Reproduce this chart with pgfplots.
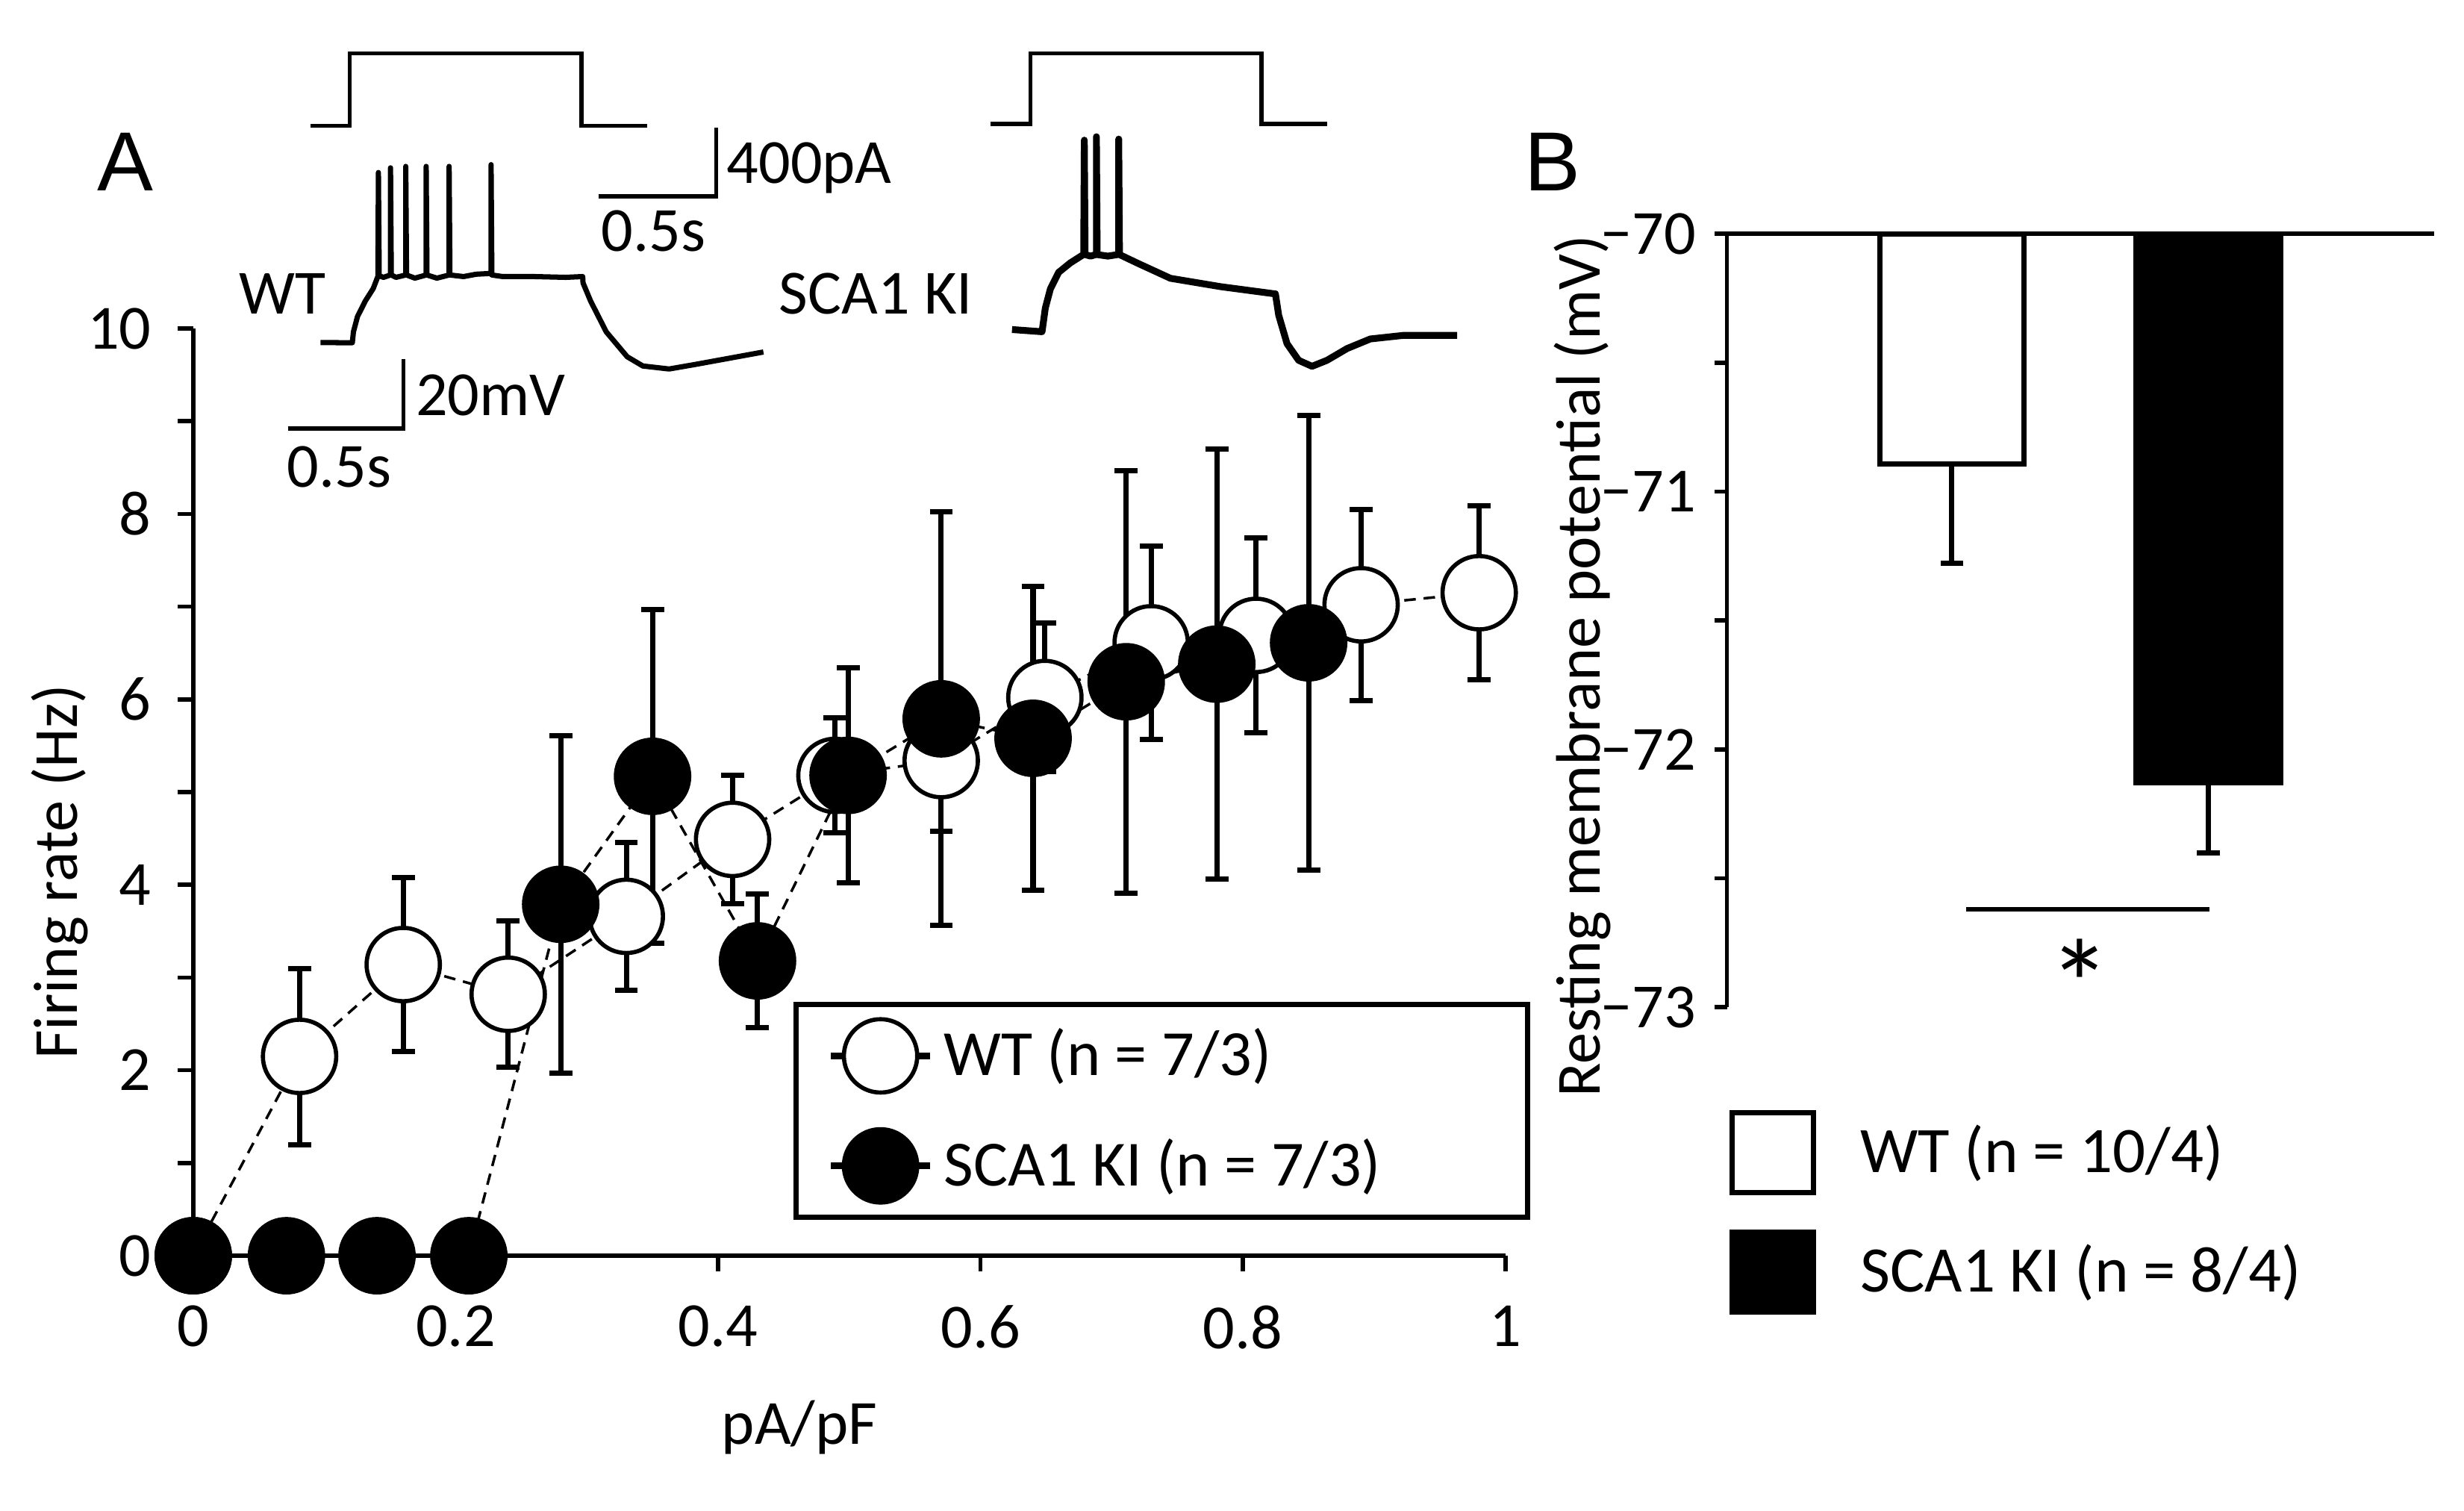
\documentclass[border=0pt]{standalone}
\usepackage{pgfplots}
\pgfplotsset{compat=1.18}
\usepackage{pgfplotstable}
\usepackage{fontspec}
\setmainfont{Carlito}
\newfontfamily\arialfont{Liberation Sans}
\newcommand\fs[1]{\fontsize{#1}{#1}\selectfont}

% firing rate vs current density: x, mean, sem
\pgfplotstableread{
x     y     e
0.000 0.00  0
0.081 2.15  0.95
0.160 3.14  0.94
0.240 2.82  0.79
0.330 3.66  0.80
0.411 4.49  0.69
0.489 5.18  0.62
0.570 5.34  0.76
0.649 6.02  0.80
0.730 6.61  1.04
0.810 6.69  1.05
0.890 7.02  1.03
0.980 7.15  0.94
}\wtdata
\pgfplotstableread{
x     y     e
0.000 0.00  0
0.071 0.00  0
0.140 0.00  0
0.210 0.00  0
0.280 3.79  1.82
0.350 5.17  1.80
0.430 3.18  0.72
0.499 5.18  1.16
0.570 5.79  2.23
0.640 5.58  1.64
0.711 6.19  2.28
0.780 6.38  2.32
0.850 6.61  2.45
}\kidata

\begin{document}
\begin{tikzpicture}
\useasboundingbox (0,0) rectangle (470.4pt,288.3pt);

% insets (example traces), in picture pixel units
\begin{axis}[at={(0,0)}, anchor=south west, scale only axis,
  width=470.4pt, height=288.3pt, xmin=0, xmax=1568, ymin=0, ymax=961,
  y dir=reverse, hide axis, clip=false, enlargelimits=false]
% current steps
\addplot[black, line width=0.8pt] coordinates {(197.5,80) (222.5,80) (222.5,34) (370,34) (370,80) (411.8,80)};
\addplot[black, line width=0.8pt] coordinates {(630.3,79) (655.7,79) (655.7,34) (802.7,34) (802.7,79) (844.5,79)};
% WT voltage
\addplot[black, line width=1pt, line join=round] coordinates {
(204,218) (224.2,218.1) (224.9,211.2) (227.5,201.4) (232.5,191.5) (237.5,183.6) (240.5,175.8)
(240.8,109.8) (241.3,175.5) (244,176.5) (248.5,175) (248.5,106.8) (249,175) (252,176.5)
(258.2,175) (258.2,105.9) (258.7,175) (264,177) (271.2,175) (271.2,105.9) (271.7,175)
(278,177) (285.8,175) (285.8,105.9) (286.3,175) (295,176) (303,174.5) (312.5,174)
(312.5,104.8) (313,175) (320,176) (340,176) (360,176.5) (370.8,176) (371,180)
(375.8,191.5) (385.8,211.2) (399.1,227) (409.1,232.9) (425.8,234.8) (442.5,231.9) (485.8,224)};
% SCA1 KI voltage
\addplot[black, line width=1.3pt, line join=round] coordinates {
(644,209.7) (663.1,211.1) (665.2,196) (668.4,183.9) (673.7,173.3) (681.1,167.3) (689.6,161.9)
(690,89.2) (690.5,162) (694,163) (697.7,161.9) (697.7,87) (698.2,162) (705,163)
(711.9,161.9) (711.9,88.5) (712.4,162) (723.5,167.3) (744.8,177.1) (776.6,182.4)
(810.5,186.9) (811.6,186.9) (813.7,200.6) (819,218.7) (826.4,229.3) (834.9,233.1)
(844.4,229.3) (857.2,221.8) (872,215.7) (893.2,213.4) (927.2,213.4)};
% scale bars
\addplot[black, line width=0.8pt] coordinates {(380.8,125) (455.8,125) (455.8,81.2)};
\addplot[black, line width=0.8pt] coordinates {(183.2,272.7) (256.8,272.7) (256.8,228.5)};
\node[anchor=west, inner sep=0pt, font=\fs{12}] at (axis cs:461.8,106.8) {400pA};
\node[inner sep=0pt, font=\fs{12}] at (axis cs:415.8,147.2) {0.5s};
\node[anchor=west, inner sep=0pt, font=\fs{12}] at (axis cs:264,251.6) {20mV};
\node[inner sep=0pt, font=\fs{12}] at (axis cs:215.8,297) {0.5s};
\node[inner sep=0pt, font=\fs{12}] at (axis cs:180,187) {WT};
\node[inner sep=0pt, font=\fs{12}] at (axis cs:557.4,187) {SCA1 KI};
\node[inner sep=0pt, font=\arialfont\fs{16}] at (axis cs:80,103) {A};
\node[inner sep=0pt, font=\arialfont\fs{16}] at (axis cs:988,103) {B};
\end{axis}

% panel A
\begin{axis}[at={(36.9pt,48.6pt)}, anchor=south west, scale only axis,
  width=250.5pt, height=177pt,
  xmin=0, xmax=1, ymin=0, ymax=10,
  axis x line*=bottom, axis y line*=left,
  axis line style={line width=0.8pt},
  xtick={0,0.2,0.4,0.6,0.8,1}, xticklabels={0,0.2,0.4,0.6,0.8,1},
  ytick={0,2,4,6,8,10}, yticklabels={0,2,4,6,8,10},
  minor ytick={1,3,5,7,9},
  tick align=outside, major tick length=3pt, minor tick length=3pt,
  tick style={black, line width=0.8pt},
  every tick label/.append style={font=\fs{12}},
  xticklabel style={yshift=-3pt},
  yticklabel style={xshift=-1.5pt},
  xlabel={pA/pF}, ylabel={Firing rate (Hz)},
  label style={font=\fs{12}},
  xlabel style={at={(axis description cs:0.462,-0.185)}, anchor=center},
  ylabel style={at={(axis description cs:-0.102,0.414)}, anchor=center},
  clip=false,
  legend style={draw=black, line width=1pt, at={(0.4575,0.039)}, anchor=south west,
    font=\fs{12.3}, inner xsep=6pt, inner ysep=2.5pt, row sep=6.5pt},
  legend cell align=left,
  legend image code/.code={
    \draw[solid, line width=1.2pt] (0pt,0pt) -- (19pt,0pt);
    \draw[#1, solid] plot coordinates {(9.5pt,0pt)};},
]
\addplot[black, dashed, dash pattern=on 2.2pt off 1.5pt, line width=0.5pt, mark=*, mark size=7pt,
  mark options={solid, fill=white, draw=black, line width=0.8pt},
  error bars/.cd, y dir=both, y explicit,
  error bar style={solid, line width=1pt},
  error mark options={solid, rotate=90, line width=1pt, mark size=2.2pt}]
  table[x=x, y=y, y error=e] {\wtdata};
\addlegendentry{WT (n = 7/3)}
\addplot[black, dashed, dash pattern=on 2.2pt off 1.5pt, line width=0.5pt, mark=*, mark size=7pt,
  mark options={solid, fill=black, draw=black, line width=0.8pt},
  error bars/.cd, y dir=both, y explicit,
  error bar style={solid, line width=1pt},
  error mark options={solid, rotate=90, line width=1pt, mark size=2.2pt}]
  table[x=x, y=y, y error=e] {\kidata};
\addlegendentry{SCA1 KI (n = 7/3)\hspace*{20pt}}
\end{axis}

% panel B
\begin{axis}[at={(329.7pt,96.06pt)}, anchor=south west, scale only axis,
  width=135pt, height=147.6pt,
  xmin=0, xmax=1, ymin=-73, ymax=-70,
  axis x line*=top, axis y line*=left,
  axis line style={line width=0.8pt},
  xtick=\empty,
  ytick={-73,-72,-71,-70}, yticklabels={−73,−72,−71,−70},
  minor ytick={-72.5,-71.5,-70.5},
  tick align=outside, major tick length=2.4pt, minor tick length=2.4pt,
  tick style={black, line width=0.8pt},
  every tick label/.append style={font=\fs{12}},
  ylabel={Resting membrane potential (mV)},
  label style={font=\fs{12}},
  ylabel style={at={(axis description cs:-0.204,0.441)}, anchor=center},
  legend style={draw=none, fill=none, at={(0.002,-0.132)}, anchor=north west,
    font=\fs{12.4}, inner xsep=0pt, inner ysep=0pt, row sep=6.6pt},
  legend cell align=left,
  legend image code/.code={
    \draw[#1, line width=1pt] (0pt,-7.6pt) rectangle (15.6pt,7.6pt);
    \path (22pt,0pt);},
]
\addplot[ybar, bar width=27.6pt, bar shift=0pt, fill=white, draw=black, line width=1pt,
  error bars/.cd, y dir=minus, y explicit,
  error bar style={line width=1pt}, error mark options={rotate=90, line width=1pt, mark size=2.2pt}]
  coordinates {(0.318,-70.893) +- (0,0.384)};
\addlegendentry{WT (n = 10/4)}
\addplot[ybar, bar width=27.6pt, bar shift=0pt, fill=black, draw=black, line width=1pt,
  error bars/.cd, y dir=minus, y explicit,
  error bar style={line width=1pt}, error mark options={rotate=90, line width=1pt, mark size=2.2pt}]
  coordinates {(0.681,-72.129) +- (0,0.272)};
\addlegendentry{SCA1 KI (n = 8/4)}
\addplot[black, line width=0.8pt, forget plot] coordinates {(0.338,-72.62) (0.682,-72.62)};
\node[inner sep=0pt, font=\fs{24}] at (axis cs:0.499,-72.91) {*};
\end{axis}
\end{tikzpicture}
\end{document}
